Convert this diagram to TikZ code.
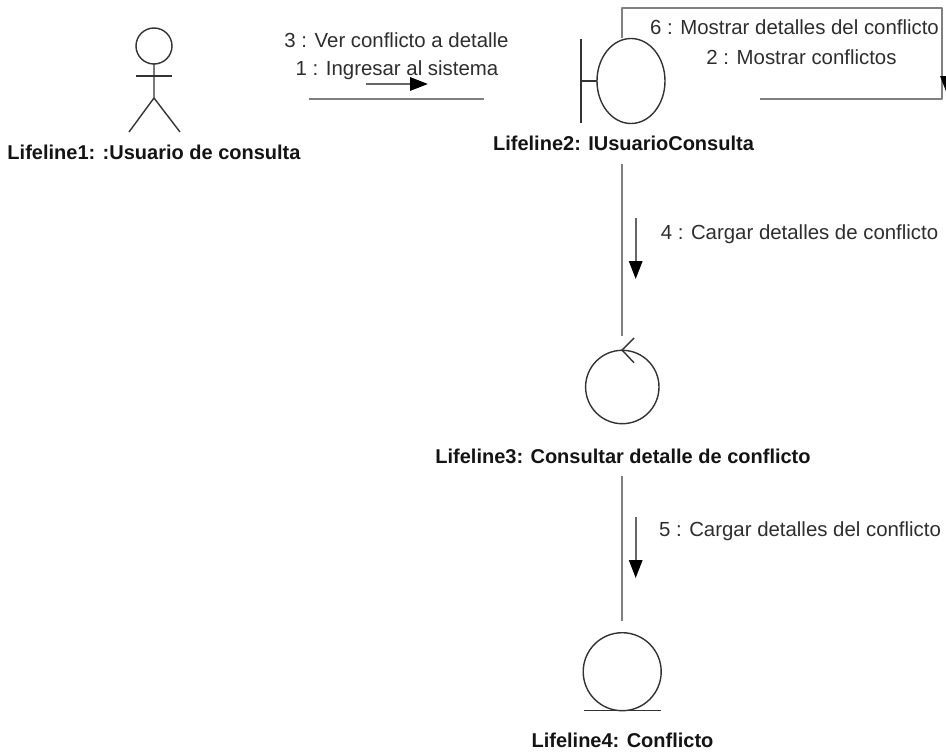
\documentclass[tikz,border=0pt]{standalone}
\usepackage{fontspec}
\setmainfont{Liberation Sans}
\usetikzlibrary{arrows.meta}
\tikzset{
 px/.style={x=0.75pt,y=-0.75pt},
 ln/.style={draw=black!50,line width=1.9pt},
 sym/.style={draw=black!80,line width=1.05pt},
 lbl/.style={font=\fontsize{15.3pt}{18pt}\selectfont,inner sep=0pt,text=black!82},
 nm/.style={font=\bfseries\fontsize{15pt}{18pt}\selectfont,inner sep=0pt,text=black!92},
 arr/.style={draw=black!60,line width=1.6pt,-{Triangle[length=13.5pt,width=10pt,fill=black,color=black]}}
}
\begin{document}
\begin{tikzpicture}[px]
\useasboundingbox (0,0) rectangle (946,753);
\fill[white] (0,0) rectangle (946,753);
% actor
\draw[sym] (154,46) circle[radius=18];
\draw[sym] (154,64) -- (154,98) -- (129,132);
\draw[sym] (154,98) -- (180,132);
\draw[sym] (136,76) -- (172,76);
\node[nm] (l1) at (154,152.5) {Lifeline1: :Usuario de consulta};
% boundary
\draw[sym] (631,81) ellipse[x radius=34,y radius=42.5];
\draw[sym] (581,39) -- (581,123);
\draw[sym] (581,81) -- (597,81);
\node[nm] (l2) at (623.5,143) {Lifeline2: IUsuarioConsulta};
% control
\draw[sym] (622.3,387) circle[radius=36.7];
\draw[sym] (634,338) -- (622,350) -- (634,362.7);
\node[nm] (l3) at (623,456.5) {Lifeline3: Consultar detalle de conflicto};
% entity
\draw[sym] (622.2,671.7) circle[radius=39];
\draw[sym] (584,710.7) -- (660.7,710.7);
\node[nm] (l4) at (622.5,740.5) {Lifeline4: Conflicto};
% links
\coordinate (a1) at (309,99); \coordinate (a2) at (484,99);
\draw[ln] (a1) -- (a2);
\coordinate (s1) at (622,38); \coordinate (s2) at (622,8); \coordinate (s3) at (942,8); \coordinate (s4) at (942,99); \coordinate (s5) at (760,99);
\draw[ln,line join=round] (s1) -- (s2) -- (s3) -- (s4) -- (s5);
\coordinate (b1) at (622,164); \coordinate (b2) at (622,336);
\draw[ln] (b1) -- (b2);
\coordinate (c1) at (622,476); \coordinate (c2) at (622,621);
\draw[ln] (c1) -- (c2);
% arrows
\coordinate (m1) at (366,84); \coordinate (m2) at (428,84);
\draw[arr] (m1) -- (m2);
\coordinate (m3) at (635.7,218); \coordinate (m4) at (635.7,279);
\draw[arr] (m3) -- (m4);
\coordinate (m5) at (635.7,517); \coordinate (m6) at (635.7,578);
\draw[arr] (m5) -- (m6);
\coordinate (m7) at (947,60); \coordinate (m8) at (947,94);
\draw[arr] (m7) -- (m8);
% labels
\node[lbl] (t3) at (396.5,40) {3 : Ver conflicto a detalle};
\node[lbl] (t1) at (397,70) {1 : Ingresar al sistema};
\node[lbl] (t6) at (794.5,27) {6 : Mostrar detalles del conflicto};
\node[lbl] (t2) at (801.5,57) {2 : Mostrar conflictos};
\node[lbl] (t4) at (799.5,234) {4 : Cargar detalles de conflicto};
\node[lbl] (t5) at (800,531) {5 : Cargar detalles del conflicto};
\end{tikzpicture}
\end{document}
